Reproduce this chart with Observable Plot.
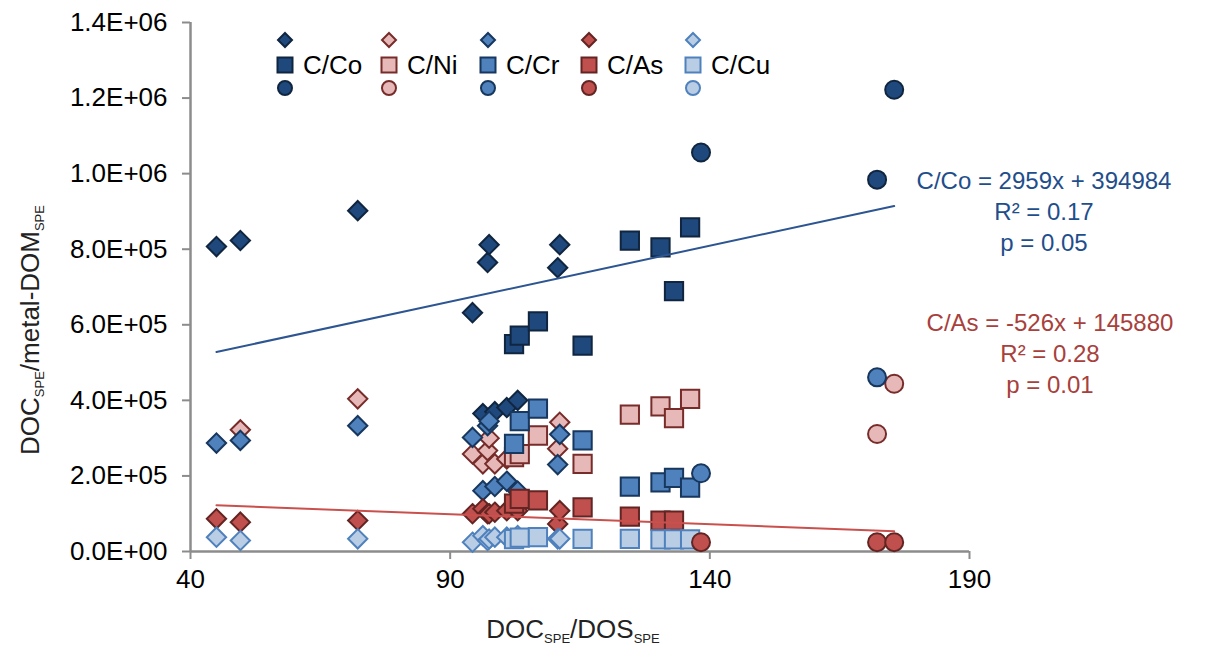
<!DOCTYPE html>
<html><head><meta charset="utf-8">
<script src="https://cdn.jsdelivr.net/npm/d3@7"></script>
<script src="https://cdn.jsdelivr.net/npm/@observablehq/plot@0.6"></script>
<style>
html,body{margin:0;padding:0;background:#fff;}
#wrap{position:relative;width:1214px;height:646px;font-family:"Liberation Sans",Arial,sans-serif;overflow:hidden;background:#fff}
#chart svg{display:block}
#overlay{position:absolute;left:0;top:0;pointer-events:none}
.title{position:absolute;white-space:nowrap;font-size:26px;color:#222;line-height:1}
.title sub{font-size:13px;vertical-align:baseline;position:relative;top:5px}
</style></head><body>
<div id="wrap"><div id="chart"></div><svg id="overlay" width="1214" height="646"></svg>
<div class="title" id="ytitle" style="left:30px;top:330px;transform:translate(-50%,-50%) rotate(-90deg)">DOC<sub>SPE</sub>/metal-DOM<sub>SPE</sub></div>
<div class="title" id="xtitle" style="left:573px;top:629px;transform:translate(-50%,-50%)">DOC<sub>SPE</sub>/DOS<sub>SPE</sub></div>
</div>
<script>
// ---------- data ----------
const metals = ["C/Co", "C/Ni", "C/Cr", "C/As", "C/Cu"];
const xTicks = [40, 90, 140, 190];
const yTicks = [0, 2e5, 4e5, 6e5, 8e5, 1e6, 1.2e6, 1.4e6];

// diamond samples (DOC/DOS)
const diamondX = [45.0, 49.6, 72.2, 94.3, 96.3, 97.2, 97.5, 98.6, 100.9, 103.0, 110.7, 111.1];
const diamondCo = [807e3, 823e3, 902e3, 632e3, 365e3, 765e3, 812e3, 370e3, 381e3, 400e3, 751e3, 812e3];
const diamondNi = [null, 322e3, 404e3, 258e3, 232e3, 267e3, 300e3, 232e3, 245e3, 259e3, 272e3, 342e3];
const diamondCr = [287e3, 294e3, 333e3, 302e3, 161e3, 333e3, 345e3, 172e3, 186e3, 160e3, 230e3, 310e3];
const diamondAs = [86.5e3, 77.6e3, 82e3, 100e3, 113e3, 100e3, 100e3, 104e3, 108e3, 108e3, 73e3, 108e3];
const diamondCu = [37.9e3, 29e3, 33.6e3, 24.6e3, 42e3, 29e3, 33e3, 38e3, 38e3, 42e3, 33.6e3, 33.6e3];

// square samples
const squareX = [102.3, 103.4, 106.9, 115.5, 124.6, 130.5, 133.1, 136.2];
const squareCo = [549e3, 571e3, 609e3, 545e3, 823e3, 805e3, 689e3, 858e3];
const squareNi = [250e3, 258e3, 307e3, 232e3, 362e3, 384e3, 353e3, 404e3];
const squareCr = [285e3, 345e3, 378e3, 294e3, 172e3, 183e3, 195e3, 169e3];
const squareAs = [127e3, 139e3, 135e3, 117e3, 92.6e3, 82e3, 82e3, null];
const squareCu = [33e3, 37e3, 38e3, 33.6e3, 33.6e3, 32e3, 32e3, 32e3];

// circle samples
const circleX = [138.3, 172.2, 175.5];
const circleCo = [1056e3, 984e3, 1222e3];
const circleNi = [null, 311e3, 444e3];
const circleCr = [207e3, 461e3, null];
const circleAs = [24.6e3, 24.6e3, 24.6e3];
const circleCu = [null, null, null];

// trendlines (slope, intercept) as printed on the chart
const trendCo = {slope: 2959, intercept: 394984, r2: "0.17", p: "0.05"};
const trendAs = {slope: -526, intercept: 145880, r2: "0.28", p: "0.01"};

// ---------- styles ----------
const fills   = {"C/Co": "#1f497d", "C/Ni": "#e6b9b8", "C/Cr": "#4f81bd", "C/As": "#c0504d", "C/Cu": "#b9cde5"};
const strokes = {"C/Co": "#10253f", "C/Ni": "#772c2a", "C/Cr": "#17375e", "C/As": "#632523", "C/Cu": "#4f81bd"};

const groups = [
  {symbol: "diamond2", r: 8.7, x: diamondX, v: {"C/Co": diamondCo, "C/Ni": diamondNi, "C/Cr": diamondCr, "C/As": diamondAs, "C/Cu": diamondCu}},
  {symbol: "square", r: 10.3, x: squareX, v: {"C/Co": squareCo, "C/Ni": squareNi, "C/Cr": squareCr, "C/As": squareAs, "C/Cu": squareCu}},
  {symbol: "circle", r: 9, x: circleX, v: {"C/Co": circleCo, "C/Ni": circleNi, "C/Cr": circleCr, "C/As": circleAs, "C/Cu": circleCu}}
];

const sci = d => {
  if (d === 0) return "0.0E+00";
  const e = Math.floor(Math.log10(d) + 1e-9);
  const m = d / Math.pow(10, e);
  return m.toFixed(1) + "E+" + String(e).padStart(2, "0");
};

const marks = [];
for (const g of groups) {
  for (const m of metals) {
    const data = g.x.map((x, i) => ({x, y: g.v[m][i]})).filter(d => d.y != null);
    marks.push(Plot.dot(data, {x: "x", y: "y", symbol: g.symbol, r: g.r, fill: fills[m], stroke: strokes[m], strokeWidth: 2}));
  }
}
const allX = [...diamondX, ...squareX, ...circleX];
const [x0, x1] = d3.extent(allX);
const lineCo = [x0, x1].map(x => ({x, y: trendCo.slope * x + trendCo.intercept}));
const lineAs = [x0, x1].map(x => ({x, y: trendAs.slope * x + trendAs.intercept}));

const chart = Plot.plot({
  width: 1214, height: 646,
  marginLeft: 190, marginRight: 245, marginTop: 22, marginBottom: 95,
  style: {fontFamily: "'Liberation Sans', Arial, sans-serif", fontSize: "26px", color: "#000", background: "#fff"},
  x: {domain: [40, 190]},
  y: {domain: [0, 1.4e6]},
  marks: [
    Plot.axisY({ticks: yTicks, tickFormat: sci, tickSize: 8, tickPadding: 15, stroke: "#8c8c8c", strokeWidth: 2, fill: "#000", label: null}),
    Plot.axisX({ticks: xTicks, tickFormat: d => String(d), tickSize: 8, tickPadding: 10, stroke: "#8c8c8c", strokeWidth: 2, fill: "#000", label: null}),
    Plot.ruleX([40], {stroke: "#8c8c8c", strokeWidth: 2.5}),
    Plot.ruleY([0], {stroke: "#8c8c8c", strokeWidth: 2.5}),
    ...marks,
    Plot.line(lineCo, {x: "x", y: "y", stroke: "#2c5592", strokeWidth: 2}),
    Plot.line(lineAs, {x: "x", y: "y", stroke: "#c9504d", strokeWidth: 2})
  ]
});
document.getElementById("chart").appendChild(chart);

// ---------- legend + annotations overlay ----------
const ov = d3.select("#overlay");
const legCols = [285, 389, 488, 589, 693];
const legRows = [{sym: d3.symbolDiamond2, size: 125, y: 40}, {sym: d3.symbolSquare, size: 225, y: 65}, {sym: d3.symbolCircle, size: 154, y: 88}];
metals.forEach((m, i) => {
  legRows.forEach(r => {
    ov.append("path").attr("d", d3.symbol(r.sym, r.size)()).attr("transform", `translate(${legCols[i]},${r.y})`)
      .attr("fill", fills[m]).attr("stroke", strokes[m]).attr("stroke-width", 2);
  });
  ov.append("text").attr("x", legCols[i] + 18).attr("y", 74).attr("font-size", 26)
    .attr("font-family", "'Liberation Sans', Arial, sans-serif").attr("fill", "#000").text(m);
});
const fmtEq = (name, t) => `${name} = ${t.slope}x + ${t.intercept}`;
const ann = [
  {lines: [fmtEq("C/Co", trendCo), `R² = ${trendCo.r2}`, `p = ${trendCo.p}`], cx: 1044, y: 189, color: "#1f4e8c"},
  {lines: [fmtEq("C/As", trendAs), `R² = ${trendAs.r2}`, `p = ${trendAs.p}`], cx: 1050, y: 331, color: "#a8403c"}
];
ann.forEach(a => a.lines.forEach((t, j) => {
  ov.append("text").attr("x", a.cx).attr("y", a.y + j * 31).attr("text-anchor", "middle").attr("font-size", 24)
    .attr("font-family", "'Liberation Sans', Arial, sans-serif").attr("fill", a.color).text(t);
}));
</script>
</body></html>
